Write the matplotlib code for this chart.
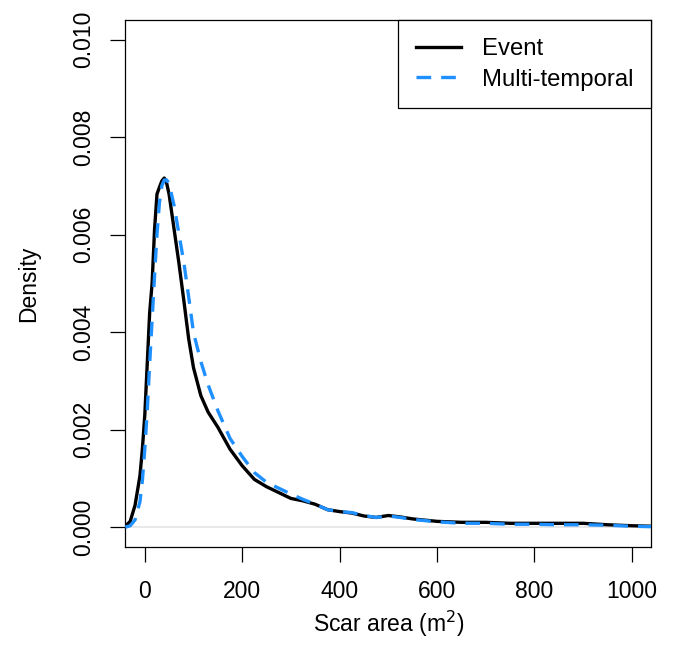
import matplotlib
matplotlib.use("Agg")
import matplotlib.pyplot as plt

plt.rcParams['font.family'] = ['Liberation Sans', 'DejaVu Sans']

# Kernel density of scar area
scar_area = [-40, -30, -20, -10, -5, 0, 5, 10, 15, 20, 25, 30, 35, 40, 45, 50,
             60, 70, 80, 90, 100, 115, 130, 150, 175, 200, 225, 250, 275, 300,
             325, 350, 375, 400, 425, 450, 475, 500, 525, 550, 600, 650, 700,
             750, 800, 850, 900, 950, 1000, 1040]

event = [0.00002, 0.00012, 0.00045, 0.00105, 0.00160, 0.00230, 0.00335, 0.00440,
         0.00500, 0.00610, 0.00683, 0.00697, 0.00710, 0.00716, 0.00705, 0.00682,
         0.00612, 0.00542, 0.00466, 0.00387, 0.00327, 0.00270, 0.00236, 0.00205,
         0.00160, 0.00126, 0.00098, 0.00083, 0.00071, 0.00059, 0.00054, 0.00047,
         0.00036, 0.00032, 0.00029, 0.00023, 0.00020, 0.00024, 0.00021, 0.00017,
         0.00012, 0.00010, 0.00010, 0.00008, 0.00008, 0.00008, 0.00008, 0.00005,
         0.00003, 0.00002]

multi_temporal = [0.0, 0.00003, 0.00015, 0.00052, 0.00095, 0.00160, 0.00238,
                  0.00335, 0.00425, 0.00515, 0.00600, 0.00665, 0.00700, 0.00712,
                  0.00712, 0.00704, 0.00660, 0.00602, 0.00544, 0.00473, 0.00399,
                  0.00340, 0.00292, 0.00239, 0.00182, 0.00145, 0.00112, 0.00092,
                  0.00080, 0.00068, 0.00057, 0.00047, 0.00036, 0.00032, 0.00030,
                  0.00024, 0.00020, 0.00023, 0.00020, 0.00016, 0.00011, 0.00008,
                  0.00008, 0.00006, 0.00006, 0.00005, 0.00005, 0.00004, 0.00002,
                  0.00001]

x_ticks = [0, 200, 400, 600, 800, 1000]
y_ticks = [0.000, 0.002, 0.004, 0.006, 0.008, 0.010]

fs = 16.5

fig = plt.figure(figsize=(6.73, 6.61), dpi=100)
ax = fig.add_axes([0.1862, 0.1729, 0.9678 - 0.1862, 0.9697 - 0.1729])

# zero line like R's plot.density
ax.axhline(0, color='#e6e6e6', lw=1.3, zorder=1)

ax.plot(scar_area, event, color='black', lw=2.4, label='Event', zorder=2)
ax.plot(scar_area, multi_temporal, color='#1E90FF', lw=2.4, dashes=(4.4, 3.0),
        label='Multi-temporal', zorder=3)

ax.set_xlim(-40, 1040)
ax.set_ylim(-0.0004, 0.0104)
ax.set_xticks(x_ticks)
ax.set_xticklabels([str(v) for v in x_ticks])
ax.set_yticks(y_ticks)
ax.set_yticklabels(['%.3f' % v for v in y_ticks])

ax.tick_params(axis='both', direction='out', length=10.8, width=0.9,
               labelsize=fs, colors='black')
ax.tick_params(axis='x', pad=13)
ax.tick_params(axis='y', pad=11, labelrotation=90)
for lab in ax.get_yticklabels():
    lab.set_va('center')

for sp in ax.spines.values():
    sp.set_linewidth(0.9)
    sp.set_color('black')

ax.set_xlabel('Scar area (m$^2$)', fontsize=fs, labelpad=4)
ax.set_ylabel('Density', fontsize=fs, labelpad=23)

leg = ax.legend(loc='upper right', fontsize=17.2, frameon=True, fancybox=False,
                framealpha=1, edgecolor='black', borderaxespad=0,
                borderpad=0.75, handlelength=1.88, handletextpad=0.87,
                labelspacing=0.36)
leg.get_frame().set_linewidth(0.9)

fig.savefig('out.png', dpi=100)
